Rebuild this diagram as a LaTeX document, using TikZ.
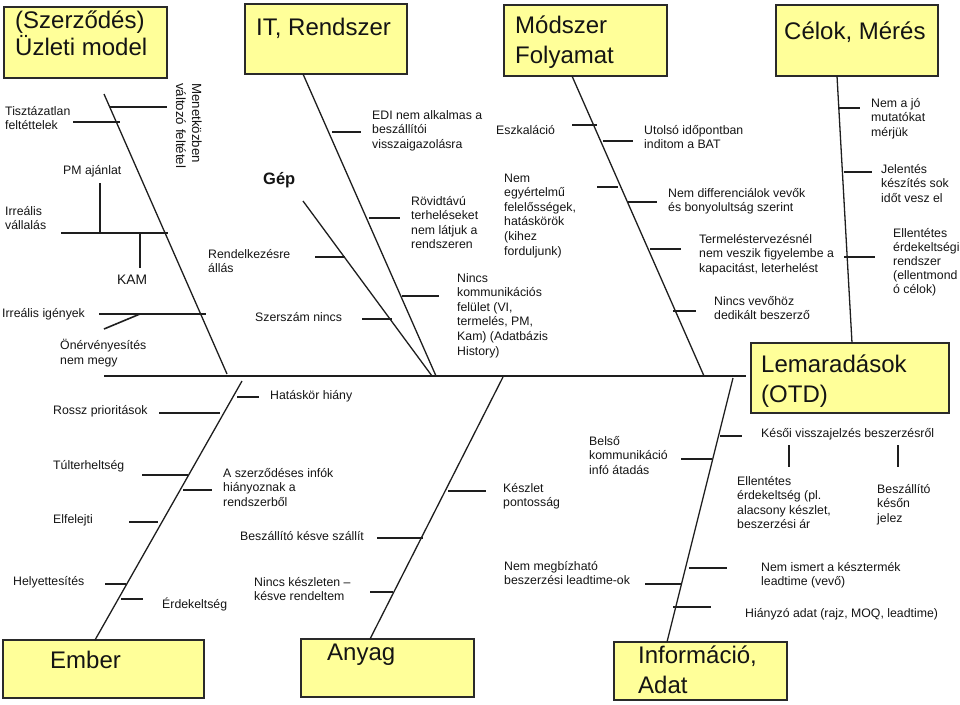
\documentclass[tikz,border=0pt]{standalone}
\usepackage{fontspec}
\setmainfont{Liberation Sans}
\definecolor{yf}{HTML}{FFFF99}
\definecolor{bc}{HTML}{2A2A2A}
\definecolor{lc}{HTML}{1E1E1E}
\definecolor{tc}{HTML}{141414}
\begin{document}
\begin{tikzpicture}[x=1pt,y=-1pt,
  bone/.style={line width=1.3pt, draw=lc},
  tick/.style={line width=1.6pt, draw=lc},
  txt/.style={anchor=base west, align=left, inner sep=0pt, font=\fontsize{12.3}{14.6}\selectfont, text=tc},
  ybox/.style={draw=bc, line width=1.4pt, fill=yf, inner sep=0pt},
  ttl/.style={anchor=base west, align=left, inner sep=0pt, text=tc},
]
\useasboundingbox (0,0) rectangle (960,704);
% note: base anchor of a multi-line node = baseline of its LAST line

% title boxes
\node[ybox, minimum width=163pt, minimum height=71pt] (b1) at (85.5,42.5) {};
\node[ybox, minimum width=162pt, minimum height=70pt] (b2) at (326,39) {};
\node[ybox, minimum width=163pt, minimum height=71pt] (b3) at (585.5,40.5) {};
\node[ybox, minimum width=162pt, minimum height=71pt] (b4) at (857,40.5) {};
\node[ybox, minimum width=198pt, minimum height=70pt] (b5) at (850,378) {};
\node[ybox, minimum width=201pt, minimum height=58pt] (b6) at (103.5,669) {};
\node[ybox, minimum width=173pt, minimum height=58pt] (b7) at (387.5,668) {};
\node[ybox, minimum width=173pt, minimum height=58pt] (b8) at (700.5,671) {};

\node[ttl, font=\fontsize{24}{23}\selectfont] (t1) at (15,55) {(Szerződés)\\Üzleti model};
\node[ttl, font=\fontsize{24}{29}\selectfont] (t2) at (256,35) {IT, Rendszer};
\node[ttl, font=\fontsize{24}{30}\selectfont] (t3) at (515,63) {Módszer\\Folyamat};
\node[ttl, font=\fontsize{24}{29}\selectfont] (t4) at (784,39) {Célok, Mérés};
\node[ttl, font=\fontsize{24}{30}\selectfont] (t5) at (761,402) {Lemaradások\\(OTD)};
\node[ttl, font=\fontsize{24}{29}\selectfont] (t6) at (50,668) {Ember};
\node[ttl, font=\fontsize{24}{29}\selectfont] (t7) at (327,660) {Anyag};
\node[ttl, font=\fontsize{24}{30}\selectfont] (t8) at (638,693) {Információ,\\Adat};

% bone end points
\coordinate (s0) at (104,376);
\coordinate (s9) at (746,376);
\coordinate (u1a) at (104,94);   \coordinate (u1b) at (227,374);
\coordinate (u2a) at (303,74);   \coordinate (u2b) at (436,376);
\coordinate (u3a) at (303,201);  \coordinate (u3b) at (432,376);
\coordinate (u4a) at (572,76);   \coordinate (u4b) at (704,376);
\coordinate (u5a) at (837,76);   \coordinate (u5b) at (852,343);
\coordinate (d1a) at (95,640);   \coordinate (d1b) at (242,381);
\coordinate (d2a) at (370,639);  \coordinate (d2b) at (503,377);
\coordinate (d3a) at (667,642);  \coordinate (d3b) at (733,378);

\draw[line width=1.5pt, draw=lc] (s0) -- (s9);
\draw[bone] (u1a) -- (u1b);
\draw[bone] (u2a) -- (u2b);
\draw[bone] (u3a) -- (u3b);
\draw[bone] (u4a) -- (u4b);
\draw[bone] (u5a) -- (u5b);
\draw[bone] (d1a) -- (d1b);
\draw[bone] (d2a) -- (d2b);
\draw[bone] (d3a) -- (d3b);

% ---- Üzleti model bone
\draw[tick] (110,107) -- (167,107);
\node[txt, rotate=-90, font=\fontsize{13.3}{16}\selectfont] (n1) at (176,83) {Menetközben\\változó feltétel};
\draw[tick] (73,122) -- (120,122);
\node[txt] (n2) at (5,129.6) {Tisztázatlan\\feltéttelek};
\node[txt] (n3) at (63,174) {PM ajánlat};
\draw[tick] (100,183) -- (100,233);
\draw[tick] (61,233) -- (168,233);
\node[txt] (n4) at (5,229.6) {Irreális\\vállalás};
\draw[tick] (140,233) -- (140,268);
\node[txt, font=\fontsize{13.8}{16}\selectfont] (n5) at (117,284) {KAM};
\draw[tick] (99,314) -- (206,314);
\node[txt] (n6) at (2,317) {Irreális igények};
\draw[tick] (104,329) -- (140,314);
\node[txt] (n7) at (60,364) {Önérvényesítés\\nem megy};

% ---- IT, Rendszer bone
\draw[tick] (332,132) -- (361,132);
\node[txt] (n8) at (372,148.2) {EDI nem alkalmas a\\beszállítói\\visszaigazolásra};
\draw[tick] (369,218) -- (400,218);
\node[txt] (n9) at (411,248.8) {Rövidtávú\\terheléseket\\nem látjuk a\\rendszeren};
\draw[tick] (402,296) -- (439,296);
\node[txt] (n10) at (457,355) {Nincs\\kommunikációs\\felület (VI,\\termelés, PM,\\Kam) (Adatbázis\\History)};

% ---- Gép bone
\node[txt, font=\fontsize{16.5}{18}\selectfont\bfseries] (n11) at (263,184) {Gép};
\draw[tick] (315,257) -- (345,257);
\node[txt] (n12) at (208,272.6) {Rendelkezésre\\állás};
\draw[tick] (362,319) -- (392,319);
\node[txt] (n13) at (255,321) {Szerszám nincs};

% ---- Módszer bone
\draw[tick] (572,125) -- (597,125);
\node[txt] (n14) at (496,134) {Eszkaláció};
\draw[tick] (603,141) -- (633,141);
\node[txt] (n15) at (644,148.6) {Utolsó időpontban\\inditom a BAT};
\draw[tick] (597,187) -- (618,187);
\node[txt] (n16) at (504,255) {Nem\\egyértelmű\\felelősségek,\\hatáskörök\\(kihez\\forduljunk)};
\draw[tick] (628,202) -- (657,202);
\node[txt] (n17) at (668,211.6) {Nem differenciálok vevők\\és bonyolultság szerint};
\draw[tick] (650,249) -- (681,249);
\node[txt] (n18) at (699,272.2) {Termeléstervezésnél\\nem veszik figyelembe a\\kapacitást, leterhelést};
\draw[tick] (673,311) -- (696,311);
\node[txt] (n19) at (714,319.6) {Nincs vevőhöz\\dedikált beszerző};

% ---- Célok bone
\draw[tick] (838,108) -- (860,108);
\node[txt] (n20) at (871,136.2) {Nem a jó\\mutatókat\\mérjük};
\draw[tick] (844,172) -- (872,172);
\node[txt] (n21) at (881,202.2) {Jelentés\\készítés sok\\időt vesz el};
\draw[tick] (844,257) -- (875,257);
\node[txt, font=\fontsize{12.3}{14}\selectfont] (n22) at (893,293) {Ellentétes\\érdekeltségi\\rendszer\\(ellentmond\\ó célok)};

% ---- Ember bone
\draw[tick] (237,397) -- (259,397);
\node[txt] (n23) at (270,399) {Hatáskör hiány};
\draw[tick] (159,413) -- (220,413);
\node[txt] (n24) at (53,414) {Rossz prioritások};
\draw[tick] (142,475) -- (188,475);
\node[txt] (n25) at (53,469) {Túlterheltség};
\draw[tick] (183,490) -- (212,490);
\node[txt] (n26) at (223,506.2) {A szerződéses infók\\hiányoznak a\\rendszerből};
\draw[tick] (129,522) -- (158,522);
\node[txt] (n27) at (53,523) {Elfelejti};
\draw[tick] (105,584) -- (126,584);
\node[txt] (n28) at (13,585) {Helyettesítés};
\draw[tick] (121,599) -- (143,599);
\node[txt] (n29) at (162,608) {Érdekeltség};

% ---- Anyag bone
\draw[tick] (448,491) -- (486,491);
\node[txt] (n30) at (503,506.6) {Készlet\\pontosság};
\draw[tick] (377,538) -- (423,538);
\node[txt] (n31) at (240,540) {Beszállító késve szállít};
\draw[tick] (370,592) -- (393,592);
\node[txt] (n32) at (254,600.6) {Nincs készleten –\\késve rendeltem};

% ---- Információ bone
\draw[tick] (720,436) -- (742,436);
\node[txt] (n33) at (761,437) {Késői visszajelzés beszerzésről};
\draw[tick] (789,445) -- (789,467);
\draw[tick] (898,445) -- (898,467);
\node[txt] (n34) at (737,528.8) {Ellentétes\\érdekeltség (pl.\\alacsony készlet,\\beszerzési ár};
\node[txt] (n35) at (877,522.2) {Beszállító\\későn\\jelez};
\draw[tick] (681,459) -- (712,459);
\node[txt] (n36) at (589,474.2) {Belső\\kommunikáció\\infó átadás};
\draw[tick] (689,568) -- (727,568);
\node[txt] (n37) at (761,585.6) {Nem ismert a késztermék\\leadtime (vevő)};
\draw[tick] (645,584) -- (681,584);
\node[txt] (n38) at (504,584.6) {Nem megbízható\\beszerzési leadtime-ok};
\draw[tick] (673,607) -- (711,607);
\node[txt] (n39) at (745,617) {Hiányzó adat (rajz, MOQ, leadtime)};
\end{tikzpicture}
\end{document}
